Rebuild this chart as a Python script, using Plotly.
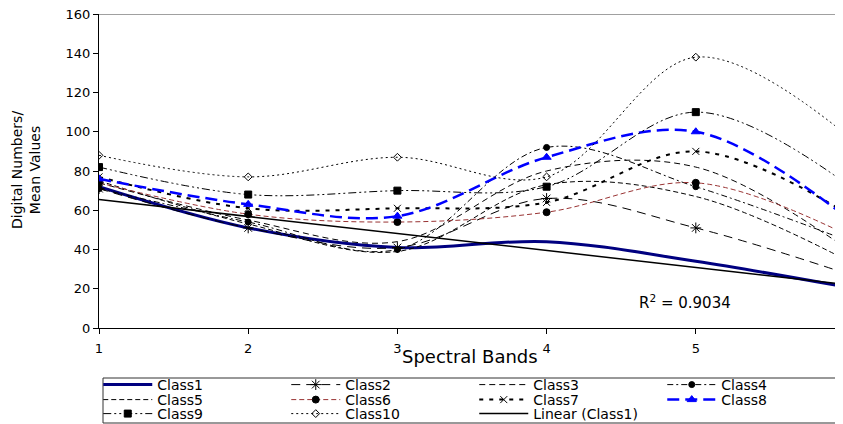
import numpy as np
import plotly.graph_objects as go

bands = [1, 2, 3, 4, 5, 6]
class1 = [72, 51, 41, 44, 34, 21]
class2 = [71, 51, 41, 66, 51, 28]
class3 = [74, 55, 44, 80, 82, 41]
class4 = [71, 54, 40, 92, 72, 45]
class5 = [75, 53, 39, 73, 67, 35]
class6 = [74, 58, 54, 59, 74, 48]
class7 = [77, 61, 61, 64, 90, 59]
class8 = [76, 63, 57, 87, 100, 57]
class9 = [82, 68, 70, 72, 110, 74]
class10 = [88, 77, 87, 77, 138, 99]
r2_text = "R<sup>2</sup> = 0.9034"

FONT = "DejaVu Sans"
OFF = 8  # page body margin
W, H = 843, 424
L = 99 - OFF
T = 14 - OFF
R = W - (845 - OFF)
B = H - (328 - OFF)
plot_w = W - L - R
plot_h = H - T - B

def py(page_y):
    return (328 - page_y) / plot_h

def px(page_x):
    return (page_x - 99) / plot_w

fig = go.Figure()

def add(name, y, legend, color="black", width=1, dash="solid", symbol=None, msize=6, mcolor=None):
    kw = {}
    if symbol is not None:
        kw["marker"] = dict(symbol=symbol, size=msize, color=mcolor or color,
                            line=dict(color=mcolor or color, width=1))
    fig.add_trace(go.Scatter(
        x=bands, y=y, name=name, legend=legend,
        mode="lines+markers" if symbol else "lines",
        line=dict(color=color, width=width, dash=dash, shape="spline", smoothing=1),
        **kw))

add("Class1", class1, "legend", color="#000080", width=3)
add("Class2", class2, "legend", dash="9px,6px", symbol="asterisk-open", msize=9)
add("Class3", class3, "legend", dash="6px,4px")
add("Class4", class4, "legend", dash="6px,3px,2px,3px", symbol="circle", msize=6)
add("Class5", class5, "legend2", dash="5px,3px")
add("Class6", class6, "legend2", color="#993333", dash="5px,3px", symbol="circle", msize=7, mcolor="black")
add("Class7", class7, "legend2", width=2, dash="4px,6px", symbol="x-thin-open", msize=7)
add("Class8", class8, "legend2", color="#0000FF", width=2.5, dash="12px,6px", symbol="triangle-up", msize=8)
add("Class9", class9, "legend3", dash="8px,3px,2px,3px,2px,3px", symbol="square", msize=7)
add("Class10", class10, "legend3", dash="2px,3px", symbol="diamond-open", msize=6)

slope, intercept = np.polyfit(bands, class1, 1)
trend = [slope * b + intercept for b in bands]
fig.add_trace(go.Scatter(x=bands, y=trend, name="Linear (Class1)", mode="lines", legend="legend3",
                         line=dict(color="black", width=1.5)))

ROW_OFF = 16
def leg(center_page_y):
    return dict(orientation="h", x=-0.001, xanchor="left",
                y=py(center_page_y - ROW_OFF), yanchor="top",
                bgcolor="rgba(0,0,0,0)", borderwidth=0,
                font=dict(family=FONT, size=14),
                itemwidth=49, entrywidth=124, entrywidthmode="pixels",
                traceorder="normal")

fig.update_layout(
    width=W, height=H,
    margin=dict(l=L, r=R, t=T, b=B, autoexpand=False),
    plot_bgcolor="white", paper_bgcolor="white",
    font=dict(family=FONT, size=13, color="black"),
    showlegend=True,
    legend=leg(385), legend2=leg(400), legend3=leg(414),
)
fig.update_xaxes(range=[1, 6], tickvals=bands, showgrid=False, zeroline=False,
                 showline=True, linecolor="black", linewidth=1, ticks="outside", ticklen=5,
                 tickcolor="black", ticklabelstandoff=3, ticklabeloverflow="allow",
                 tickfont=dict(size=13))
fig.update_yaxes(range=[0, 160], dtick=20, showgrid=False, zeroline=False,
                 showline=True, linecolor="black", linewidth=1, ticks="outside", ticklen=5,
                 tickcolor="black", ticklabeloverflow="allow", tickfont=dict(size=13))

fig.add_shape(type="line", xref="paper", x0=0, x1=1, yref="y", y0=160, y1=160,
              line=dict(color="#808080", width=1.5))
# legend frame
fig.add_shape(type="rect", xref="paper", x0=px(103), x1=px(852), yref="paper",
              y0=py(378), y1=py(423), line=dict(color="#333333", width=1))

fig.add_annotation(text="Digital Numbers/<br>Mean Values", textangle=-90,
                   xref="paper", x=px(26), xanchor="center",
                   yref="paper", y=py(170), yanchor="middle",
                   showarrow=False, font=dict(size=14))
fig.add_annotation(text="Spectral Bands", xref="paper", x=px(470), xanchor="center",
                   yref="paper", y=py(356), yanchor="middle",
                   showarrow=False, font=dict(size=18))
fig.add_annotation(text=r2_text, xref="x", x=4.93, yref="y", y=13.3,
                   xanchor="center", yanchor="middle",
                   showarrow=False, font=dict(size=15))

fig.write_html("out.html")
